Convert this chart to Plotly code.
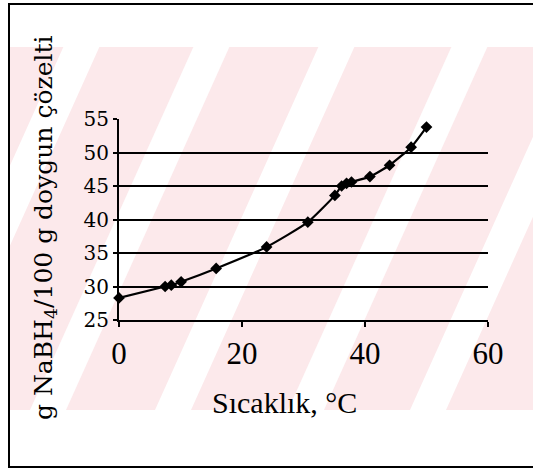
import plotly.graph_objects as go

# ---- data ----
temperature_c = [0, 7.5, 8.5, 10.1, 15.8, 24.0, 30.7, 35.1, 36.2, 37.0, 37.8, 40.8, 44.0, 47.5, 50.0]
solubility = [28.3, 30.0, 30.2, 30.7, 32.7, 35.9, 39.6, 43.6, 45.0, 45.4, 45.6, 46.4, 48.1, 50.8, 53.8]
x_ticks = [0, 20, 40, 60]
y_ticks = [25, 30, 35, 40, 45, 50, 55]
grid_values = [30, 35, 40, 45, 50]
x_title = "Sıcaklık, °C"
y_title = "g NaBH<sub>4</sub>/100 g doygun çözelti"

W, H = 533, 470
ML, MR, MT, MB = 119, 45, 119, 150
PW, PH = W - ML - MR, H - MT - MB


def px(x):
    return (x - ML) / PW


def py(y):
    return (H - MB - y) / PH


fig = go.Figure()
fig.add_trace(go.Scatter(
    x=temperature_c, y=solubility, mode="lines+markers",
    line=dict(color="black", width=2.2, shape="spline", smoothing=0.5),
    marker=dict(symbol="diamond", size=9, color="black"),
    cliponaxis=False, showlegend=False,
))

shapes = []
# faint pink watermark band with white diagonal stripes
band_top, band_bot = 47, 410
shapes.append(dict(type="rect", xref="paper", yref="paper", layer="below",
                   x0=px(9), x1=px(540), y0=py(band_bot), y1=py(band_top),
                   fillcolor="#fce9eb", line=dict(width=0)))
slope = 0.45
for cx in [-55, 75, 200, 333, 455, 580]:
    # center x at y=350, width 36
    def xa(yy, off):
        return cx + off + slope * (350 - yy)
    x_b0, x_b1 = xa(band_bot, -18), xa(band_bot, 18)
    x_t0, x_t1 = xa(band_top, -18), xa(band_top, 18)
    path = (f"M {px(x_b0)} {py(band_bot)} L {px(x_b1)} {py(band_bot)} "
            f"L {px(x_t1)} {py(band_top)} L {px(x_t0)} {py(band_top)} Z")
    shapes.append(dict(type="path", xref="paper", yref="paper", layer="below",
                       path=path, fillcolor="white", line=dict(width=0)))
# outer frame
shapes.append(dict(type="rect", xref="paper", yref="paper", layer="above",
                   x0=px(9), x1=px(545), y0=py(467), y1=py(4),
                   line=dict(color="black", width=2), fillcolor="rgba(0,0,0,0)"))

fig.update_layout(
    width=W, height=H,
    margin=dict(l=ML, r=MR, t=MT, b=MB, pad=0),
    paper_bgcolor="white", plot_bgcolor="rgba(0,0,0,0)",
    shapes=shapes,
    xaxis=dict(range=[0, 60], tickvals=x_ticks, ticks="outside", ticklen=5, tickwidth=2,
               tickcolor="black", showline=True, linecolor="black", linewidth=2,
               showgrid=False, zeroline=False,
               tickfont=dict(family="Liberation Serif", size=31, color="black")),
    yaxis=dict(range=[25, 55], tickvals=y_ticks, ticks="outside", ticklen=4, tickwidth=2,
               tickcolor="black", showline=True, linecolor="black", linewidth=2,
               showgrid=False, zeroline=False,
               minor=dict(tickvals=grid_values, showgrid=True, gridcolor="black",
                          gridwidth=2.2, ticks=""),
               tickfont=dict(family="DejaVu Serif", size=20, color="black")),
    annotations=[
        dict(text=x_title, xref="paper", yref="paper", x=px(284), y=py(402),
             xanchor="center", yanchor="middle", showarrow=False,
             font=dict(family="Liberation Serif", size=30, color="black")),
        dict(text=y_title, xref="paper", yref="paper", x=px(45), y=py(228),
             xanchor="center", yanchor="middle", showarrow=False, textangle=-90,
             font=dict(family="DejaVu Serif", size=25, color="black")),
    ],
)

fig.write_html("out.html")
